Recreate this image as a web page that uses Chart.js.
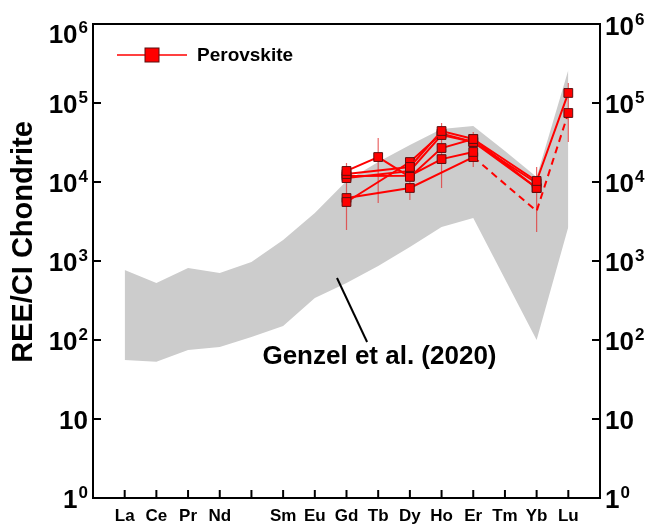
<!DOCTYPE html>
<html>
<head>
<meta charset="utf-8">
<script src="https://cdn.jsdelivr.net/npm/chart.js@4.4.1/dist/chart.umd.min.js"></script>
<style>
html,body{margin:0;padding:0;background:#fff;}
#wrap{width:651px;height:524px;position:relative;}
</style>
</head>
<body>
<div id="wrap"><canvas id="c" width="651" height="524"></canvas></div>
<script>
// ---------- data ----------
const elements = ['La','Ce','Pr','Nd','Pm','Sm','Eu','Gd','Tb','Dy','Ho','Er','Tm','Yb','Lu'];
const xTickLabels = ['La','Ce','Pr','Nd','','Sm','Eu','Gd','Tb','Dy','Ho','Er','Tm','Yb','Lu'];

// Genzel et al. (2020) range (grey field)
const genzelUpper = [770, 527, 815, 705, 970, 1845, 4050, 10300, 17900, 29400, 46900, 51100, 24700, 11560, 262000];
const genzelLower = [55.8, 53, 74.7, 81.5, 109, 150, 340, 527, 865, 1503, 2692, 3500, 592, 100, 2692];

// Perovskite analyses
const pvkElements = ['Gd','Tb','Dy','Ho','Er','Yb','Lu'];
const pvk1 = [13800, 20700, 11600, 26900, 35000, 10300, 134000];
const pvk2 = [12600, null, 15500, 44200, 35000, 8400, null];
const pvk3 = [11200, null, 13800, 39300, 32100, 9710, null];
const pvk4 = [5580, null, 17900, 41000, 32100, 8400, null];
const pvk5 = [11900, null, 12000, 19500, 24000, null, null];
const pvk6 = [6270, null, 8400, null, 20700, 4290, 74700];
const pvk6BelowDetection = [false, false, false, false, false, true, false];
const errLow  = [2470, 5420, 5920, 8400, 15500, 2330, 32100];
const errHigh = [17400, 36000, 20100, 55800, 42900, 15500, 179000];

// y axis ticks
const yTickValues = [1, 10, 100, 1000, 10000, 100000, 1000000];
const yTickBase = ['1', '10', '10', '10', '10', '10', '10'];
const yTickExp  = ['0', '', '2', '3', '4', '5', '6'];

const yTitle = 'REE/CI Chondrite';
const seriesName = 'Perovskite';
const fieldName = 'Genzel et al. (2020)';

// ---------- build ----------
const FONT = '"Liberation Sans", Arial, Helvetica, sans-serif';
const RED = '#ff0000';
const xOf = el => elements.indexOf(el) + 1;
const pts = (vals, els) => els.map((e, i) => ({ x: xOf(e), y: vals[i] }));

const pvkSeries = [pvk1, pvk2, pvk3, pvk4, pvk5, pvk6];
const datasets = pvkSeries.map((vals, k) => ({
  label: k === 0 ? seriesName : seriesName + ' ' + (k + 1),
  data: pts(vals, pvkElements),
  borderColor: RED,
  backgroundColor: RED,
  borderWidth: 2,
  pointStyle: 'rect',
  pointRadius: ctx => (k === 5 && pvk6BelowDetection[ctx.dataIndex]) ? 0 : 6.2,
  pointBackgroundColor: RED,
  pointBorderColor: '#5a1010',
  pointBorderWidth: 1,
  spanGaps: true,
  fill: false,
  tension: 0,
  clip: false,
  segment: {
    borderDash: ctx => (k === 5 && (pvk6BelowDetection[ctx.p0DataIndex] || pvk6BelowDetection[ctx.p1DataIndex])) ? [7, 5] : undefined
  }
}));
const lowerIndex = datasets.length;
datasets.push({
  label: fieldName + ' lower',
  data: pts(genzelLower, elements),
  borderColor: 'rgba(0,0,0,0)', borderWidth: 1, pointRadius: 0, fill: false, tension: 0
});
datasets.push({
  label: fieldName,
  data: pts(genzelUpper, elements),
  borderColor: 'rgba(0,0,0,0)', borderWidth: 1, pointRadius: 0,
  backgroundColor: '#cccccc', fill: '-1', tension: 0
});

const axisCommon = {
  grid: { display: false, drawTicks: false },
  ticks: { display: false },
  border: { display: true, color: '#000', width: 2 },
  title: { display: false }
};

const decorPlugin = {
  id: 'decor',
  afterDatasetDraw(chart, args) {
    if (args.index !== lowerIndex) return;
    const ctx = chart.ctx, xs = chart.scales.x, ys = chart.scales.y;
    ctx.save();
    ctx.strokeStyle = 'rgba(225,50,50,0.75)';
    ctx.lineWidth = 1.2;
    pvkElements.forEach((el, i) => {
      const px = xs.getPixelForValue(xOf(el));
      ctx.beginPath();
      ctx.moveTo(px, ys.getPixelForValue(errHigh[i]));
      ctx.lineTo(px, ys.getPixelForValue(errLow[i]));
      ctx.stroke();
    });
    ctx.restore();
  },
  afterDraw(chart) {
    const ctx = chart.ctx, xs = chart.scales.x, ys = chart.scales.y, a = chart.chartArea;
    ctx.save();
    // inward tick marks
    ctx.strokeStyle = '#000';
    ctx.lineWidth = 2;
    const seg = (x1, y1, x2, y2) => { ctx.beginPath(); ctx.moveTo(x1, y1); ctx.lineTo(x2, y2); ctx.stroke(); };
    elements.forEach((e, i) => {
      const px = xs.getPixelForValue(i + 1);
      seg(px, a.bottom, px, a.bottom - 8);
    });
    yTickValues.forEach(v => {
      const py = ys.getPixelForValue(v);
      seg(a.left, py, a.left + 8, py);
      seg(a.right, py, a.right - 8, py);
    });
    // x labels
    ctx.fillStyle = '#000';
    ctx.textAlign = 'center';
    ctx.textBaseline = 'alphabetic';
    ctx.font = 'bold 17px ' + FONT;
    xTickLabels.forEach((t, i) => {
      if (!t) return;
      ctx.fillText(t, xs.getPixelForValue(i + 1), 521);
    });
    // y labels (left and right) with superscript exponents
    ctx.textAlign = 'left';
    const baseFont = 'bold 26px ' + FONT, expFont = 'bold 17px ' + FONT;
    yTickValues.forEach((v, i) => {
      const py = ys.getPixelForValue(v);
      ctx.font = baseFont; const wb = ctx.measureText(yTickBase[i]).width;
      ctx.font = expFont; const we = yTickExp[i] ? ctx.measureText(yTickExp[i]).width + 1 : 0;
      const isTop = i === yTickValues.length - 1;
      // left
      let bl = py + (isTop ? 19 : 10);
      let sx = a.left - 5 - (wb + we);
      ctx.font = baseFont; ctx.fillText(yTickBase[i], sx, bl);
      if (yTickExp[i]) { ctx.font = expFont; ctx.fillText(yTickExp[i], sx + wb + 1, bl - 10); }
      // right
      bl = py + (isTop ? 11 : 10);
      sx = a.right + 5;
      ctx.font = baseFont; ctx.fillText(yTickBase[i], sx, bl);
      if (yTickExp[i]) { ctx.font = expFont; ctx.fillText(yTickExp[i], sx + wb + 1, bl - 10); }
    });
    // y title
    ctx.save();
    ctx.translate(24, 242);
    ctx.rotate(-Math.PI / 2);
    ctx.textAlign = 'center';
    ctx.textBaseline = 'middle';
    ctx.font = 'bold 29px ' + FONT;
    ctx.fillText(yTitle, 0, 0);
    ctx.restore();
    // legend
    ctx.strokeStyle = RED;
    ctx.lineWidth = 1.5;
    seg(117, 55, 187, 55);
    ctx.fillStyle = RED;
    ctx.fillRect(145, 48, 14, 14);
    ctx.strokeStyle = '#5a1010';
    ctx.lineWidth = 1;
    ctx.strokeRect(145, 48, 14, 14);
    ctx.fillStyle = '#000';
    ctx.textAlign = 'left';
    ctx.textBaseline = 'middle';
    ctx.font = 'bold 19px ' + FONT;
    ctx.fillText(chart.data.datasets[0].label, 197, 56);
    // annotation for grey field
    ctx.strokeStyle = '#000';
    ctx.lineWidth = 2;
    seg(xs.getPixelForValue(7.70), ys.getPixelForValue(609), xs.getPixelForValue(8.65), ys.getPixelForValue(94.3));
    ctx.textAlign = 'center';
    ctx.font = 'bold 26px ' + FONT;
    ctx.fillText(chart.data.datasets[lowerIndex + 1].label, xs.getPixelForValue(9.04), ys.getPixelForValue(61));
    ctx.restore();
  }
};

new Chart(document.getElementById('c'), {
  type: 'line',
  data: { datasets },
  options: {
    responsive: false,
    animation: false,
    devicePixelRatio: 1,
    layout: { padding: { left: 93, right: 51, top: 24, bottom: 26 } },
    plugins: { legend: { display: false }, tooltip: { enabled: false } },
    scales: {
      x: Object.assign({ type: 'linear', min: 0, max: 16, position: 'bottom' }, axisCommon),
      x2: Object.assign({ type: 'linear', min: 0, max: 16, position: 'top' }, axisCommon),
      y: Object.assign({ type: 'logarithmic', min: 1, max: 1000000, position: 'left' }, axisCommon),
      y2: Object.assign({ type: 'logarithmic', min: 1, max: 1000000, position: 'right' }, axisCommon)
    }
  },
  plugins: [decorPlugin]
});
</script>
</body>
</html>
